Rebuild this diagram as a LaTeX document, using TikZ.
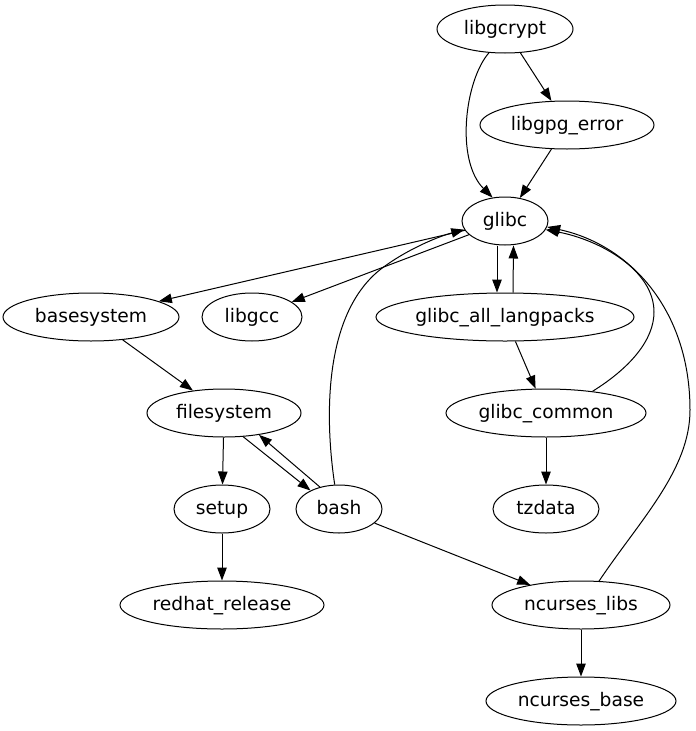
\documentclass[tikz,border=0pt]{standalone}
\usepackage{fontspec}
\setmainfont{DejaVu Sans}
\usetikzlibrary{shapes.geometric,arrows.meta}
\newcommand{\pkgtext}[1]{\makebox[0pt]{#1}}
\tikzset{
  pkg/.style={ellipse, draw, line width=1pt, inner sep=0pt, minimum height=48pt,
    text height=14.5pt, text depth=3.5pt, font=\fontsize{18.67}{22}\selectfont},
  edge/.style={line width=1pt, -{Triangle[length=13pt,width=9.5pt]}}
}
\begin{document}
\begin{tikzpicture}[x=1pt,y=-1pt]
\useasboundingbox (0,0) rectangle (696,731);
\node[pkg, minimum width=136pt] (libgcrypt) at (505,29) {\pkgtext{libgcrypt}};
\node[pkg, minimum width=174pt] (libgpg_error) at (567,125) {\pkgtext{libgpg\_error}};
\node[pkg, minimum width=86pt] (glibc) at (505,221) {\pkgtext{glibc}};
\node[pkg, minimum width=176pt] (basesystem) at (91,317) {\pkgtext{basesystem}};
\node[pkg, minimum width=100pt] (libgcc) at (252,317) {\pkgtext{libgcc}};
\node[pkg, minimum width=258pt] (langpacks) at (505,317) {\pkgtext{glibc\_all\_langpacks}};
\node[pkg, minimum width=154pt] (filesystem) at (224,413) {\pkgtext{filesystem}};
\node[pkg, minimum width=200pt] (common) at (546,413) {\pkgtext{glibc\_common}};
\node[pkg, minimum width=96pt] (setup) at (222,509) {\pkgtext{setup}};
\node[pkg, minimum width=86pt] (bash) at (339,509) {\pkgtext{bash}};
\node[pkg, minimum width=106pt] (tzdata) at (546,509) {\pkgtext{tzdata}};
\node[pkg, minimum width=204pt] (redhat) at (222,605) {\pkgtext{redhat\_release}};
\node[pkg, minimum width=178pt] (nlibs) at (581,605) {\pkgtext{ncurses\_libs}};
\node[pkg, minimum width=190pt] (nbase) at (581,701) {\pkgtext{ncurses\_base}};

\draw[edge] (libgcrypt) -- (libgpg_error);
\draw[edge] (libgcrypt.236) .. controls (465,80) and (455,160) .. (glibc.118);
\draw[edge] (libgpg_error) -- (glibc);
\draw[edge] (glibc) -- (basesystem);
\draw[edge] (glibc) -- (libgcc);
\draw[edge] ([xshift=-8pt]glibc.south) -- ([xshift=-8pt]langpacks.north);
\draw[edge] ([xshift=8pt]langpacks.north) -- ([xshift=8.5pt]glibc.south);
\draw[edge] (langpacks) -- (common);
\draw[edge] (common.25) .. controls (630,368) and (654,340) .. (654,312)
  .. controls (654,270) and (600,240) .. (glibc.-12);
\draw[edge] (common) -- (tzdata);
\draw[edge] (basesystem) -- (filesystem);
\draw[edge] (filesystem) -- (setup);
\draw[edge] (filesystem.-51) -- (bash.147);
\draw[edge] (bash.131) -- (filesystem.-32);
\draw[edge] (bash.100) .. controls (325,420) and (322,310) .. (385,266)
  .. controls (410,248) and (440,236) .. (glibc.192);
\draw[edge] (bash) -- (nlibs);
\draw[edge] (setup) -- (redhat);
\draw[edge] (nlibs.53) .. controls (640,520) and (690,470) .. (690,410)
  .. controls (690,310) and (630,245) .. (glibc.-8);
\draw[edge] (nlibs) -- (nbase);
\end{tikzpicture}
\end{document}
